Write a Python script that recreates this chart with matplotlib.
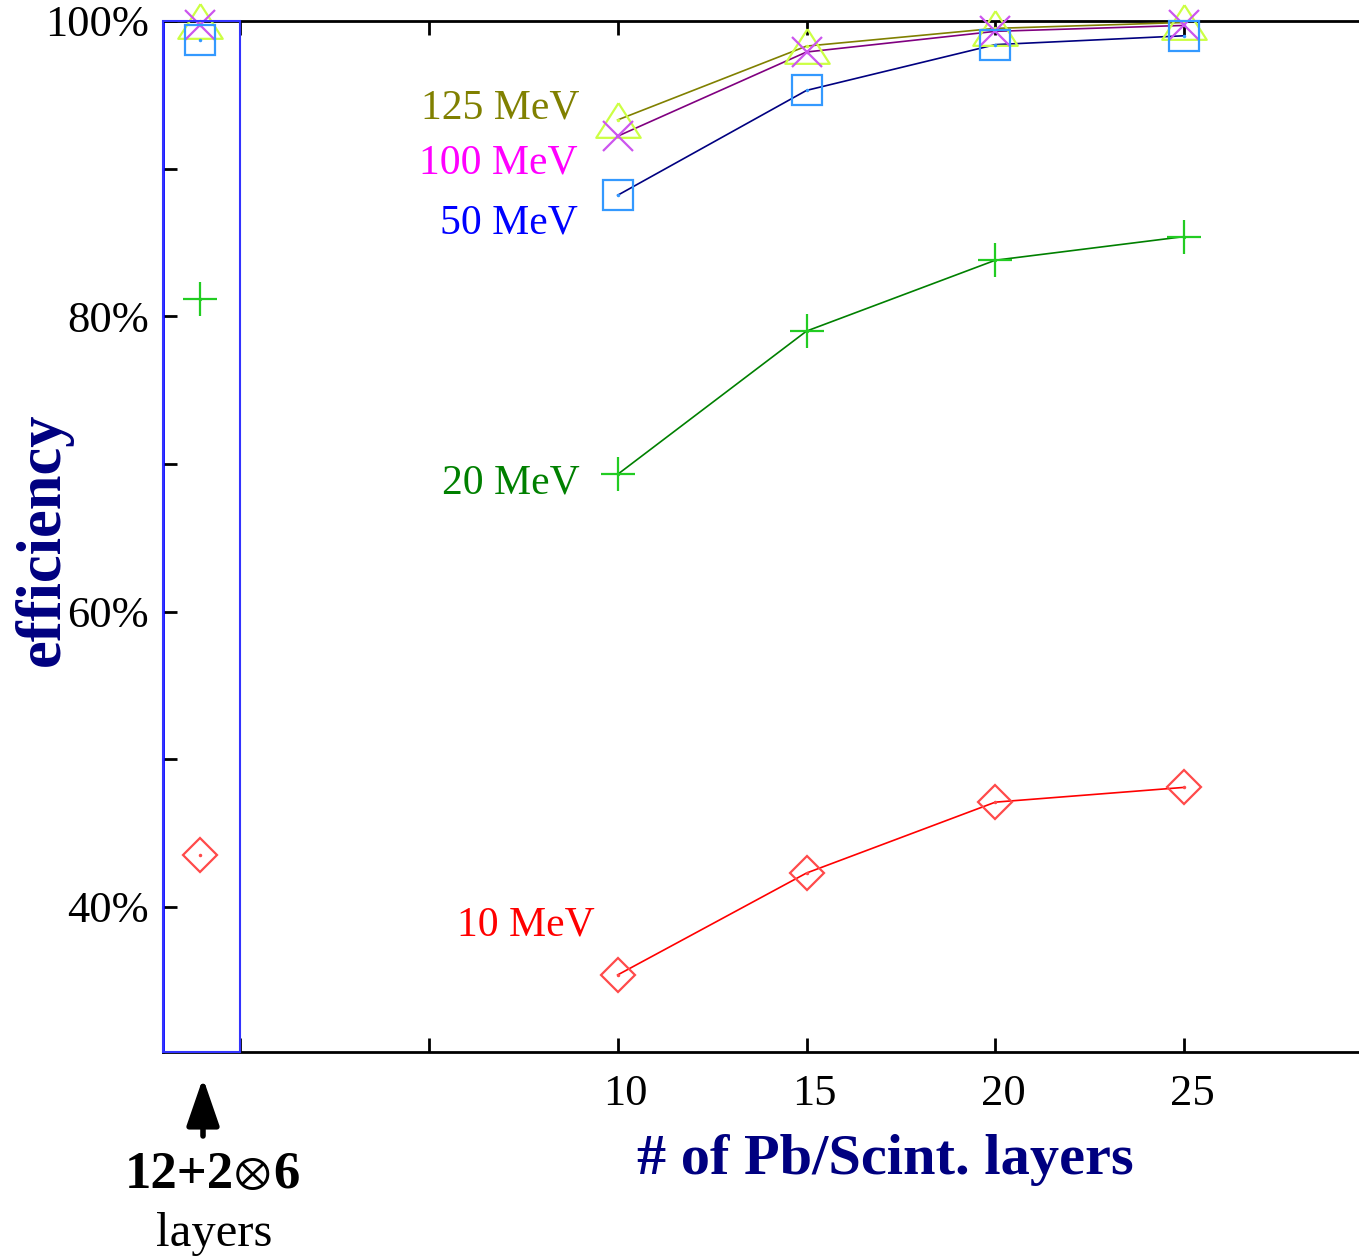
import numpy as np
import matplotlib.pyplot as plt
import matplotlib.transforms as mtransforms
from matplotlib.patches import Rectangle

plt.rcParams['font.family'] = ['Liberation Serif', 'DejaVu Serif']

# number of Pb/Scint. layers
layers = [10, 15, 20, 25]
x_ref = -1.05   # the 12+2x6 configuration, drawn left of zero

# efficiency (%) per photon energy
eff_10 = [35.4, 42.3, 47.1, 48.1]
eff_20 = [69.3, 79.0, 83.8, 85.4]
eff_50 = [88.2, 95.3, 98.4, 99.0]
eff_100 = [92.2, 97.9, 99.3, 99.7]
eff_125 = [93.3, 98.3, 99.5, 99.9]
# same energies for the 12+2x6 layer setup
ref_eff = {'10': 43.5, '20': 81.2, '50': 98.7, '100': 99.7, '125': 100.0}

energies = ['125', '100', '50', '20', '10']
labels = ['125 MeV', '100 MeV', '50 MeV', '20 MeV', '10 MeV']

tri = [(0, 0.78), (-1, -0.78), (1, -0.78), (0, 0.78)]
series = {
    '10':  (eff_10,  '#ff0000', '#ff4a4a', 'D', 17, '#ff0000'),
    '20':  (eff_20,  '#008000', '#22cc22', '+', 24, '#008000'),
    '50':  (eff_50,  '#000080', '#3399ff', 's', 22, '#0000ff'),
    '100': (eff_100, '#800080', '#cc55ee', 'x', 22, '#ff00ff'),
    '125': (eff_125, '#808000', '#ccff44', tri, 32, '#808000'),
}
# label anchor (right edge, baseline) in data coords
label_pos = {'125': (9.0, 93.4), '100': (8.95, 89.7), '50': (8.95, 85.6),
             '20': (9.0, 68.0), '10': (9.4, 38.05)}

fig = plt.figure(figsize=(13.59, 12.59), dpi=100)
ax = fig.add_axes([163/1359, 1 - 1052/1259, 1 - 163/1359, (1052 - 21)/1259])
ax.set_xlim(-2.04, 29.63)
ax.set_ylim(30.18, 100)

for key, lab in zip(energies, labels):
    vals, lc, mc, mk, ms, tc = series[key]
    ax.plot(layers, vals, color=lc, lw=1.2, zorder=3, clip_on=False)
    xs = [x_ref] + layers
    ys = [ref_eff[key]] + vals
    ax.plot(xs, ys, ls='none', marker=mk, ms=ms, mfc='none', mec=mc,
            mew=1.6, zorder=4, clip_on=False)
    ax.plot(xs, ys, ls='none', marker='.', ms=3, color=mc, zorder=4, clip_on=False)
    tx, ty = label_pos[key]
    ax.text(tx, ty, lab, color=tc, fontsize=30, ha='right', va='baseline')

# box around the 12+2x6 configuration
ax.add_patch(Rectangle((-2.04, 30.18), 2.04, 69.82, fill=False, edgecolor='#3333ff',
                       lw=1.5, zorder=5, clip_on=False))

ax.spines['right'].set_visible(False)
ax.spines['left'].set_color('#0000ff')
for s in ['top', 'bottom', 'left']:
    ax.spines[s].set_linewidth(2)

ax.set_yticks([40, 60, 80, 100])
ax.set_yticklabels(['40%', '60%', '80%', '100%'])
ax.set_yticks([50, 70, 90], minor=True)
ax.set_xticks([0, 5, 10, 15, 20, 25])
ax.set_xticklabels(['', '', '10', '15', '20', '25'])
ax.tick_params(axis='y', which='both', direction='in', length=10, width=2,
               labelsize=32, pad=10)
ax.tick_params(axis='x', which='both', direction='in', length=10, width=2,
               labelsize=32, pad=16, top=True)
shift = mtransforms.ScaledTranslation(8/100, 0, fig.dpi_scale_trans)
for t in ax.get_xticklabels():
    t.set_transform(t.get_transform() + shift)

fig.text(885/1359, 1 - 1160/1259, '# of Pb/Scint. layers', color='#000080',
         fontsize=42, fontweight='bold', ha='center', va='center')
fig.text(43/1359, 1 - 539/1259, 'efficiency', color='#000080', fontsize=45,
         fontweight='bold', rotation=90, ha='center', va='center')

ax.annotate('', xy=(203/1359, 1 - 1078/1259), xytext=(203/1359, 1 - 1136/1259),
            xycoords='figure fraction', textcoords='figure fraction',
            arrowprops=dict(arrowstyle='-|>,head_length=1.45,head_width=0.5',
                            mutation_scale=20, color='black', lw=4,
                            shrinkA=0, shrinkB=0))
# 12+2(x)6 label, the circled times sign in regular weight
ylab = 1 - 1175/1259
fig.text(234/1359, ylab, '12+2', fontsize=38, fontweight='bold', ha='right', va='center')
fig.text(252/1359, ylab, '\u2297', fontsize=32, ha='center', va='center',
         family=['STIXGeneral', 'DejaVu Serif'])
fig.text(273/1359, ylab, '6', fontsize=38, fontweight='bold', ha='left', va='center')
fig.text(214/1359, 1 - 1234/1259, 'layers', fontsize=35, ha='center', va='center')

fig.savefig('out.png', dpi=100)
